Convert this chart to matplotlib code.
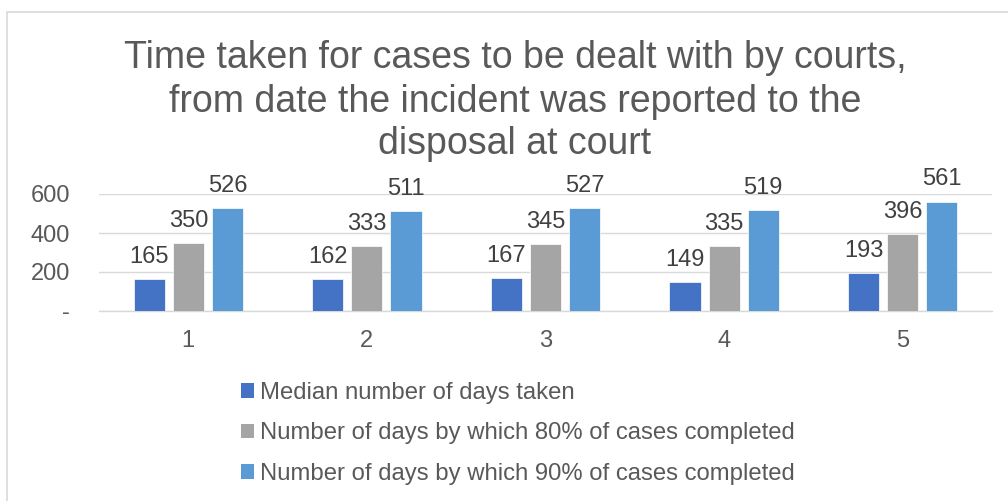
import matplotlib
matplotlib.use("Agg")
import matplotlib.pyplot as plt
from matplotlib.patches import Rectangle, Patch
import numpy as np

categories = ["1", "2", "3", "4", "5"]
median_days = [165, 162, 167, 149, 193]
days_80 = [350, 333, 345, 335, 396]
days_90 = [526, 511, 527, 519, 561]
series_names = ["Median number of days taken",
                "Number of days by which 80% of cases completed",
                "Number of days by which 90% of cases completed"]
colors = ["#4472C4", "#A5A5A5", "#5B9BD5"]
yticks = [0, 200, 400, 600]
ytick_labels = ["-", "200", "400", "600"]
title = "Time taken for cases to be dealt with by courts,\nfrom date the incident was reported to the\ndisposal at court"

plt.rcParams['font.family'] = ['Liberation Sans', 'DejaVu Sans']
txt = "#595959"
W, H = 1008, 501
fig = plt.figure(figsize=(W / 100, H / 100), dpi=100)

# chart border
fig.patches.append(Rectangle((7 / W, -0.2), 1.2, 1.2 - 12 / H, transform=fig.transFigure,
                             fill=False, edgecolor="#d9d9d9", linewidth=1.2, zorder=0))

ax = fig.add_axes([99 / W, 1 - 311 / H, (992 - 99) / W, (311 - 194) / H])
x = np.arange(len(categories))
bw = 0.174
gap = 0.045
data = [median_days, days_80, days_90]
for i, (vals, c, name) in enumerate(zip(data, colors, series_names)):
    off = (i - 1) * (bw + gap)
    bars = ax.bar(x + off, vals, width=bw, color=c, label=name, zorder=3,
                  edgecolor="white", linewidth=0.5)
    for b, v in zip(bars, vals):
        ax.annotate(str(v), (b.get_x() + b.get_width() / 2, v), xytext=(0, 8),
                    textcoords="offset points", ha="center", va="bottom",
                    fontsize=17, color="#404040")

ax.set_xlim(-0.5, len(categories) - 0.5)
ax.set_ylim(0, 600)
ax.set_xticks(x)
ax.set_xticklabels(categories)
ax.set_yticks(yticks)
ax.set_yticklabels(ytick_labels)
ax.tick_params(axis="both", length=0, labelsize=17, labelcolor=txt)
ax.tick_params(axis="x", pad=14)
ax.tick_params(axis="y", pad=21)
ax.grid(axis="y", color="#d9d9d9", linewidth=1.0, zorder=0)
for s in ["top", "right", "left"]:
    ax.spines[s].set_visible(False)
ax.spines["bottom"].set_color("#d9d9d9")
ax.spines["bottom"].set_linewidth(1.0)
ax.set_facecolor("none")

fig.text(515 / W, 1 - 101.5 / H, title, ha="center", va="center", fontsize=27,
         color=txt, linespacing=1.25)

handles = [Patch(facecolor=c, edgecolor="none") for c in colors]
fig.legend(handles, series_names, loc="upper left", bbox_to_anchor=(241 / W, 1 - 382 / H),
           frameon=False, fontsize=17.2, borderpad=0, borderaxespad=0,
           handlelength=0.55, handleheight=0.55, handletextpad=0.25,
           labelspacing=0.77, labelcolor=txt)

fig.savefig("out.png", dpi=100)
